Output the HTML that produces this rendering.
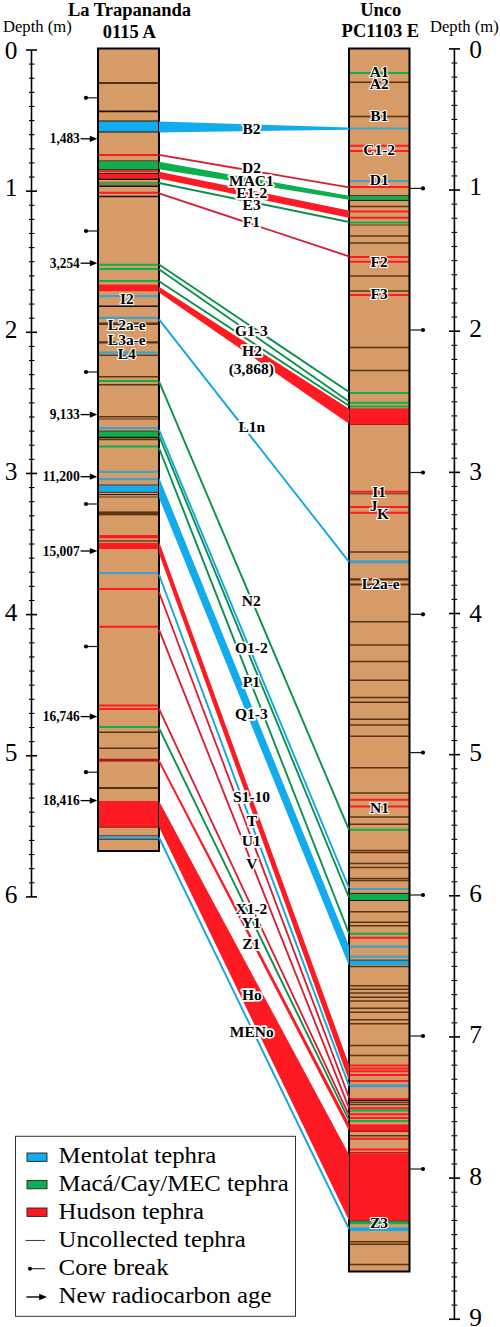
<!DOCTYPE html>
<html><head><meta charset="utf-8"><style>
html,body{margin:0;padding:0;background:#fff;}
svg{display:block;}
text{font-family:"Liberation Serif",serif;}
.lb{font-weight:bold;fill:#000;stroke:#fff;stroke-width:3.4px;paint-order:stroke;stroke-linejoin:round;}
.lc{stroke-width:2.2px;}
.dt{font-weight:bold;font-size:15.4px;}
.tt{font-weight:bold;font-size:18.5px;}
.dp{font-size:16.6px;}
.ax{font-size:25.4px;}
.lg{font-size:23.5px;}
</style></head><body>
<svg width="500" height="1327" viewBox="0 0 500 1327">
<rect x="98.0" y="48.5" width="61.0" height="802.5" fill="#D79B67"/>
<rect x="349.0" y="48.5" width="60.5" height="1223" fill="#D79B67"/>
<line x1="98.0" y1="83" x2="159.0" y2="83" stroke="#1C1008" stroke-width="1.6"/>
<line x1="98.0" y1="111.4" x2="159.0" y2="111.4" stroke="#1C1008" stroke-width="1.6"/>
<rect x="98.0" y="121.4" width="61.0" height="10.599999999999994" fill="#12ACEE"/>
<line x1="98.0" y1="121.0" x2="159.0" y2="121.0" stroke="#1C1008" stroke-width="1.0"/>
<line x1="98.0" y1="132.0" x2="159.0" y2="132.0" stroke="#1C1008" stroke-width="1.0"/>
<line x1="98.0" y1="155" x2="159.0" y2="155" stroke="#FD1A22" stroke-width="2.0"/>
<line x1="98.0" y1="161" x2="159.0" y2="161" stroke="#1C1008" stroke-width="1.0"/>
<rect x="98.0" y="161.5" width="61.0" height="7.800000000000011" fill="#0DAE4E"/>
<line x1="98.0" y1="169.8" x2="159.0" y2="169.8" stroke="#1C1008" stroke-width="1.0"/>
<line x1="98.0" y1="171.3" x2="159.0" y2="171.3" stroke="#FD1A22" stroke-width="2.0"/>
<line x1="98.0" y1="173.6" x2="159.0" y2="173.6" stroke="#1C1008" stroke-width="1.0"/>
<rect x="98.0" y="174" width="61.0" height="4.599999999999994" fill="#FD1A22"/>
<line x1="98.0" y1="179.2" x2="159.0" y2="179.2" stroke="#1C1008" stroke-width="1.5"/>
<rect x="98.0" y="181.8" width="61.0" height="3.799999999999983" fill="#5E8F3C"/>
<line x1="98.0" y1="186.3" x2="159.0" y2="186.3" stroke="#1C1008" stroke-width="1.5"/>
<line x1="98.0" y1="192.7" x2="159.0" y2="192.7" stroke="#FD1A22" stroke-width="2.0"/>
<line x1="98.0" y1="196.5" x2="159.0" y2="196.5" stroke="#1C1008" stroke-width="1.5"/>
<line x1="98.0" y1="264.7" x2="159.0" y2="264.7" stroke="#0DAE4E" stroke-width="2.0"/>
<line x1="98.0" y1="268.9" x2="159.0" y2="268.9" stroke="#0DAE4E" stroke-width="2.0"/>
<line x1="98.0" y1="280.9" x2="159.0" y2="280.9" stroke="#0DAE4E" stroke-width="2.0"/>
<rect x="98.0" y="284.6" width="61.0" height="6.599999999999966" fill="#FD1A22"/>
<line x1="98.0" y1="296.2" x2="159.0" y2="296.2" stroke="#3FA2CC" stroke-width="2.2"/>
<line x1="98.0" y1="306.2" x2="159.0" y2="306.2" stroke="#1C1008" stroke-width="1.5"/>
<line x1="98.0" y1="317.9" x2="159.0" y2="317.9" stroke="#3FA2CC" stroke-width="2.2"/>
<line x1="98.0" y1="323.8" x2="159.0" y2="323.8" stroke="#5A3414" stroke-width="2.4"/>
<line x1="98.0" y1="342.4" x2="159.0" y2="342.4" stroke="#5A3414" stroke-width="2.4"/>
<line x1="98.0" y1="352.6" x2="159.0" y2="352.6" stroke="#3FA2CC" stroke-width="2.2"/>
<line x1="98.0" y1="355.2" x2="159.0" y2="355.2" stroke="#1C1008" stroke-width="1.0"/>
<line x1="98.0" y1="376.8" x2="159.0" y2="376.8" stroke="#5A3414" stroke-width="1.5"/>
<line x1="98.0" y1="380.9" x2="159.0" y2="380.9" stroke="#0DAE4E" stroke-width="2.0"/>
<line x1="98.0" y1="384.8" x2="159.0" y2="384.8" stroke="#5A3414" stroke-width="1.5"/>
<line x1="98.0" y1="416.8" x2="159.0" y2="416.8" stroke="#5A3414" stroke-width="1.6"/>
<line x1="98.0" y1="419.0" x2="159.0" y2="419.0" stroke="#5A3414" stroke-width="1.0"/>
<line x1="98.0" y1="428.2" x2="159.0" y2="428.2" stroke="#3FA2CC" stroke-width="2.2"/>
<line x1="98.0" y1="431.2" x2="159.0" y2="431.2" stroke="#1C1008" stroke-width="1.0"/>
<rect x="98.0" y="431.6" width="61.0" height="5.399999999999977" fill="#0DAE4E"/>
<line x1="98.0" y1="437.5" x2="159.0" y2="437.5" stroke="#1C1008" stroke-width="1.5"/>
<line x1="98.0" y1="439.6" x2="159.0" y2="439.6" stroke="#5A3414" stroke-width="1.5"/>
<line x1="98.0" y1="446.6" x2="159.0" y2="446.6" stroke="#0DAE4E" stroke-width="2.0"/>
<line x1="98.0" y1="471.9" x2="159.0" y2="471.9" stroke="#3FA2CC" stroke-width="2.2"/>
<line x1="98.0" y1="479.1" x2="159.0" y2="479.1" stroke="#3FA2CC" stroke-width="2.2"/>
<line x1="98.0" y1="485.1" x2="159.0" y2="485.1" stroke="#1C1008" stroke-width="1.0"/>
<rect x="98.0" y="485.5" width="61.0" height="6.399999999999977" fill="#12ACEE"/>
<line x1="98.0" y1="492.3" x2="159.0" y2="492.3" stroke="#1C1008" stroke-width="0.8"/>
<line x1="98.0" y1="494.6" x2="159.0" y2="494.6" stroke="#1C1008" stroke-width="1.0"/>
<line x1="98.0" y1="497.0" x2="159.0" y2="497.0" stroke="#5A3414" stroke-width="1.0"/>
<rect x="98.0" y="511.4" width="61.0" height="4.0" fill="#5A3414"/>
<rect x="98.0" y="535" width="61.0" height="3.2999999999999545" fill="#FD1A22"/>
<line x1="98.0" y1="541" x2="159.0" y2="541" stroke="#1C1008" stroke-width="1.0"/>
<rect x="98.0" y="543" width="61.0" height="6" fill="#FD1A22"/>
<line x1="98.0" y1="573" x2="159.0" y2="573" stroke="#3FA2CC" stroke-width="2.2"/>
<line x1="98.0" y1="589" x2="159.0" y2="589" stroke="#FD1A22" stroke-width="2.0"/>
<line x1="98.0" y1="626.7" x2="159.0" y2="626.7" stroke="#FD1A22" stroke-width="2.0"/>
<line x1="98.0" y1="705.4" x2="159.0" y2="705.4" stroke="#FD1A22" stroke-width="2.0"/>
<line x1="98.0" y1="709" x2="159.0" y2="709" stroke="#FD1A22" stroke-width="2.0"/>
<line x1="98.0" y1="727" x2="159.0" y2="727" stroke="#0DAE4E" stroke-width="2.0"/>
<line x1="98.0" y1="732.3" x2="159.0" y2="732.3" stroke="#5A3414" stroke-width="1.5"/>
<line x1="98.0" y1="748.3" x2="159.0" y2="748.3" stroke="#5A3414" stroke-width="1.5"/>
<rect x="98.0" y="758.7" width="61.0" height="2.8999999999999773" fill="#A8191C"/>
<line x1="98.0" y1="788" x2="159.0" y2="788" stroke="#1C1008" stroke-width="1.5"/>
<rect x="98.0" y="801" width="61.0" height="26" fill="#FD1A22"/>
<line x1="98.0" y1="827.2" x2="159.0" y2="827.2" stroke="#A8191C" stroke-width="1.2"/>
<line x1="98.0" y1="835.8" x2="159.0" y2="835.8" stroke="#223" stroke-width="0.9"/>
<rect x="98.0" y="836.2" width="61.0" height="2.599999999999909" fill="#3FA2CC"/>
<line x1="98.0" y1="839.3" x2="159.0" y2="839.3" stroke="#223" stroke-width="0.9"/>
<line x1="349.0" y1="73" x2="409.5" y2="73" stroke="#0DAE4E" stroke-width="2.0"/>
<line x1="349.0" y1="82.3" x2="409.5" y2="82.3" stroke="#5A3414" stroke-width="1.5"/>
<line x1="349.0" y1="116.5" x2="409.5" y2="116.5" stroke="#5A3414" stroke-width="1.5"/>
<line x1="349.0" y1="128.5" x2="409.5" y2="128.5" stroke="#3FA2CC" stroke-width="2.2"/>
<line x1="349.0" y1="145.8" x2="409.5" y2="145.8" stroke="#FD1A22" stroke-width="2.0"/>
<line x1="349.0" y1="150.9" x2="409.5" y2="150.9" stroke="#FD1A22" stroke-width="2.0"/>
<line x1="349.0" y1="181" x2="409.5" y2="181" stroke="#3FA2CC" stroke-width="2.2"/>
<line x1="349.0" y1="186.9" x2="409.5" y2="186.9" stroke="#FD1A22" stroke-width="2.0"/>
<line x1="349.0" y1="195.8" x2="409.5" y2="195.8" stroke="#1C1008" stroke-width="1.0"/>
<rect x="349.0" y="196.2" width="60.5" height="3.700000000000017" fill="#0DAE4E"/>
<line x1="349.0" y1="200.4" x2="409.5" y2="200.4" stroke="#1C1008" stroke-width="1.0"/>
<line x1="349.0" y1="206.6" x2="409.5" y2="206.6" stroke="#5A3414" stroke-width="1.5"/>
<line x1="349.0" y1="211.4" x2="409.5" y2="211.4" stroke="#FD1A22" stroke-width="2.0"/>
<line x1="349.0" y1="217.8" x2="409.5" y2="217.8" stroke="#FD1A22" stroke-width="2.0"/>
<line x1="349.0" y1="222.6" x2="409.5" y2="222.6" stroke="#0DAE4E" stroke-width="2.0"/>
<line x1="349.0" y1="225" x2="409.5" y2="225" stroke="#5A3414" stroke-width="1.0"/>
<line x1="349.0" y1="236.0" x2="409.5" y2="236.0" stroke="#5A3414" stroke-width="1.5"/>
<line x1="349.0" y1="243.0" x2="409.5" y2="243.0" stroke="#5A3414" stroke-width="1.5"/>
<line x1="349.0" y1="256.9" x2="409.5" y2="256.9" stroke="#FD1A22" stroke-width="2.0"/>
<line x1="349.0" y1="261.7" x2="409.5" y2="261.7" stroke="#FD1A22" stroke-width="2.0"/>
<line x1="349.0" y1="276" x2="409.5" y2="276" stroke="#5A3414" stroke-width="1.5"/>
<line x1="349.0" y1="291" x2="409.5" y2="291" stroke="#5A3414" stroke-width="1.5"/>
<line x1="349.0" y1="295" x2="409.5" y2="295" stroke="#FD1A22" stroke-width="2.0"/>
<line x1="349.0" y1="347.5" x2="409.5" y2="347.5" stroke="#5A3414" stroke-width="1.5"/>
<line x1="349.0" y1="370.5" x2="409.5" y2="370.5" stroke="#5A3414" stroke-width="1.5"/>
<line x1="349.0" y1="393" x2="409.5" y2="393" stroke="#0DAE4E" stroke-width="2.0"/>
<line x1="349.0" y1="402.7" x2="409.5" y2="402.7" stroke="#0DAE4E" stroke-width="2.0"/>
<line x1="349.0" y1="406.5" x2="409.5" y2="406.5" stroke="#0DAE4E" stroke-width="2.0"/>
<rect x="349.0" y="408.3" width="60.5" height="15.699999999999989" fill="#FD1A22"/>
<line x1="349.0" y1="424.5" x2="409.5" y2="424.5" stroke="#A8191C" stroke-width="1.0"/>
<line x1="349.0" y1="491.7" x2="409.5" y2="491.7" stroke="#FD1A22" stroke-width="2.0"/>
<line x1="349.0" y1="493.8" x2="409.5" y2="493.8" stroke="#5A3414" stroke-width="1.0"/>
<line x1="349.0" y1="507" x2="409.5" y2="507" stroke="#FD1A22" stroke-width="2.0"/>
<line x1="349.0" y1="512.7" x2="409.5" y2="512.7" stroke="#FD1A22" stroke-width="2.0"/>
<line x1="349.0" y1="552" x2="409.5" y2="552" stroke="#5A3414" stroke-width="1.5"/>
<line x1="349.0" y1="561.8" x2="409.5" y2="561.8" stroke="#3FA2CC" stroke-width="3.0"/>
<line x1="349.0" y1="579.4" x2="409.5" y2="579.4" stroke="#5A3414" stroke-width="2.2"/>
<line x1="349.0" y1="584.5" x2="409.5" y2="584.5" stroke="#5A3414" stroke-width="2.2"/>
<line x1="349.0" y1="621.7" x2="409.5" y2="621.7" stroke="#5A3414" stroke-width="1.5"/>
<line x1="349.0" y1="645" x2="409.5" y2="645" stroke="#5A3414" stroke-width="1.5"/>
<line x1="349.0" y1="661.4" x2="409.5" y2="661.4" stroke="#5A3414" stroke-width="1.5"/>
<line x1="349.0" y1="680.3" x2="409.5" y2="680.3" stroke="#5A3414" stroke-width="1.5"/>
<line x1="349.0" y1="697.4" x2="409.5" y2="697.4" stroke="#5A3414" stroke-width="1.5"/>
<line x1="349.0" y1="702.2" x2="409.5" y2="702.2" stroke="#5A3414" stroke-width="1.5"/>
<line x1="349.0" y1="719.3" x2="409.5" y2="719.3" stroke="#5A3414" stroke-width="1.5"/>
<line x1="349.0" y1="725" x2="409.5" y2="725" stroke="#5A3414" stroke-width="1.5"/>
<line x1="349.0" y1="736.3" x2="409.5" y2="736.3" stroke="#5A3414" stroke-width="1.5"/>
<line x1="349.0" y1="767.8" x2="409.5" y2="767.8" stroke="#5A3414" stroke-width="1.5"/>
<line x1="349.0" y1="793" x2="409.5" y2="793" stroke="#5A3414" stroke-width="1.5"/>
<line x1="349.0" y1="799.8" x2="409.5" y2="799.8" stroke="#FD1A22" stroke-width="2.0"/>
<line x1="349.0" y1="806.5" x2="409.5" y2="806.5" stroke="#FD1A22" stroke-width="2.0"/>
<line x1="349.0" y1="817" x2="409.5" y2="817" stroke="#5A3414" stroke-width="1.5"/>
<line x1="349.0" y1="824.2" x2="409.5" y2="824.2" stroke="#5A3414" stroke-width="1.5"/>
<line x1="349.0" y1="829.8" x2="409.5" y2="829.8" stroke="#0DAE4E" stroke-width="2.0"/>
<line x1="349.0" y1="850.6" x2="409.5" y2="850.6" stroke="#5A3414" stroke-width="1.5"/>
<line x1="349.0" y1="852.6" x2="409.5" y2="852.6" stroke="#5A3414" stroke-width="1.5"/>
<line x1="349.0" y1="863.4" x2="409.5" y2="863.4" stroke="#5A3414" stroke-width="1.5"/>
<line x1="349.0" y1="867.4" x2="409.5" y2="867.4" stroke="#5A3414" stroke-width="1.5"/>
<line x1="349.0" y1="878.6" x2="409.5" y2="878.6" stroke="#5A3414" stroke-width="1.5"/>
<line x1="349.0" y1="880.4" x2="409.5" y2="880.4" stroke="#5A3414" stroke-width="1.5"/>
<line x1="349.0" y1="889" x2="409.5" y2="889" stroke="#3FA2CC" stroke-width="2.2"/>
<line x1="349.0" y1="893.4" x2="409.5" y2="893.4" stroke="#1C1008" stroke-width="1.0"/>
<rect x="349.0" y="893.9" width="60.5" height="6.100000000000023" fill="#0DAE4E"/>
<line x1="349.0" y1="900.5" x2="409.5" y2="900.5" stroke="#1C1008" stroke-width="1.0"/>
<line x1="349.0" y1="911.7" x2="409.5" y2="911.7" stroke="#5A3414" stroke-width="1.5"/>
<line x1="349.0" y1="922.3" x2="409.5" y2="922.3" stroke="#5A3414" stroke-width="1.5"/>
<line x1="349.0" y1="925.8" x2="409.5" y2="925.8" stroke="#5A3414" stroke-width="1.5"/>
<line x1="349.0" y1="933.8" x2="409.5" y2="933.8" stroke="#0DAE4E" stroke-width="2.0"/>
<line x1="349.0" y1="937.8" x2="409.5" y2="937.8" stroke="#FD1A22" stroke-width="2.0"/>
<line x1="349.0" y1="946.6" x2="409.5" y2="946.6" stroke="#3FA2CC" stroke-width="2.2"/>
<line x1="349.0" y1="956.7" x2="409.5" y2="956.7" stroke="#3FA2CC" stroke-width="2.2"/>
<line x1="349.0" y1="960.2" x2="409.5" y2="960.2" stroke="#1C1008" stroke-width="1.0"/>
<rect x="349.0" y="960.7" width="60.5" height="4.2999999999999545" fill="#12ACEE"/>
<line x1="349.0" y1="966.4" x2="409.5" y2="966.4" stroke="#5A3414" stroke-width="1.5"/>
<line x1="349.0" y1="985.8" x2="409.5" y2="985.8" stroke="#5A3414" stroke-width="1.5"/>
<line x1="349.0" y1="989.2" x2="409.5" y2="989.2" stroke="#5A3414" stroke-width="1.5"/>
<line x1="349.0" y1="993" x2="409.5" y2="993" stroke="#5A3414" stroke-width="1.5"/>
<line x1="349.0" y1="997.3" x2="409.5" y2="997.3" stroke="#5A3414" stroke-width="1.5"/>
<line x1="349.0" y1="1001" x2="409.5" y2="1001" stroke="#5A3414" stroke-width="1.5"/>
<line x1="349.0" y1="1008.3" x2="409.5" y2="1008.3" stroke="#5A3414" stroke-width="1.5"/>
<line x1="349.0" y1="1012.3" x2="409.5" y2="1012.3" stroke="#5A3414" stroke-width="1.5"/>
<line x1="349.0" y1="1019.8" x2="409.5" y2="1019.8" stroke="#5A3414" stroke-width="1.5"/>
<line x1="349.0" y1="1023.8" x2="409.5" y2="1023.8" stroke="#5A3414" stroke-width="1.5"/>
<line x1="349.0" y1="1045.4" x2="409.5" y2="1045.4" stroke="#5A3414" stroke-width="1.5"/>
<line x1="349.0" y1="1055.5" x2="409.5" y2="1055.5" stroke="#5A3414" stroke-width="1.5"/>
<line x1="349.0" y1="1065.4" x2="409.5" y2="1065.4" stroke="#FD1A22" stroke-width="2.0"/>
<line x1="349.0" y1="1068.6" x2="409.5" y2="1068.6" stroke="#FD1A22" stroke-width="2.0"/>
<line x1="349.0" y1="1071.2" x2="409.5" y2="1071.2" stroke="#FD1A22" stroke-width="2.0"/>
<line x1="349.0" y1="1075" x2="409.5" y2="1075" stroke="#FD1A22" stroke-width="2.0"/>
<line x1="349.0" y1="1081" x2="409.5" y2="1081" stroke="#FD1A22" stroke-width="2.0"/>
<rect x="349.0" y="1084.4" width="60.5" height="2.7999999999999545" fill="#3FA2CC"/>
<line x1="349.0" y1="1099" x2="409.5" y2="1099" stroke="#FD1A22" stroke-width="2.0"/>
<line x1="349.0" y1="1100.5" x2="409.5" y2="1100.5" stroke="#1C1008" stroke-width="1.0"/>
<line x1="349.0" y1="1102.2" x2="409.5" y2="1102.2" stroke="#1C1008" stroke-width="1.0"/>
<line x1="349.0" y1="1104.6" x2="409.5" y2="1104.6" stroke="#5A3414" stroke-width="1.5"/>
<line x1="349.0" y1="1108.3" x2="409.5" y2="1108.3" stroke="#FD1A22" stroke-width="2.0"/>
<line x1="349.0" y1="1110.6" x2="409.5" y2="1110.6" stroke="#0DAE4E" stroke-width="2.0"/>
<line x1="349.0" y1="1114.2" x2="409.5" y2="1114.2" stroke="#FD1A22" stroke-width="2.0"/>
<line x1="349.0" y1="1118" x2="409.5" y2="1118" stroke="#FD1A22" stroke-width="2.0"/>
<line x1="349.0" y1="1121.1" x2="409.5" y2="1121.1" stroke="#0DAE4E" stroke-width="2.0"/>
<rect x="349.0" y="1124.4" width="60.5" height="6.599999999999909" fill="#FD1A22"/>
<line x1="349.0" y1="1131.4" x2="409.5" y2="1131.4" stroke="#A8191C" stroke-width="1.2"/>
<line x1="349.0" y1="1135.8" x2="409.5" y2="1135.8" stroke="#5A3414" stroke-width="1.5"/>
<line x1="349.0" y1="1138.7" x2="409.5" y2="1138.7" stroke="#FD1A22" stroke-width="2.0"/>
<line x1="349.0" y1="1149.4" x2="409.5" y2="1149.4" stroke="#FD1A22" stroke-width="2.0"/>
<line x1="349.0" y1="1152.4" x2="409.5" y2="1152.4" stroke="#A8191C" stroke-width="1.0"/>
<rect x="349.0" y="1153.2" width="60.5" height="67.39999999999986" fill="#FD1A22"/>
<line x1="349.0" y1="1221.1" x2="409.5" y2="1221.1" stroke="#1C1008" stroke-width="1.0"/>
<rect x="349.0" y="1221.5" width="60.5" height="2.7000000000000455" fill="#0DAE4E"/>
<rect x="349.0" y="1227.5" width="60.5" height="3.5" fill="#12ACEE"/>
<line x1="349.0" y1="1241.7" x2="409.5" y2="1241.7" stroke="#5A3414" stroke-width="1.5"/>
<line x1="349.0" y1="1244.3" x2="409.5" y2="1244.3" stroke="#5A3414" stroke-width="1.5"/>
<line x1="349.0" y1="1264.6" x2="409.5" y2="1264.6" stroke="#5A3414" stroke-width="1.5"/>
<rect x="98.0" y="48.5" width="61.0" height="802.5" fill="none" stroke="#000" stroke-width="2"/>
<rect x="349.0" y="48.5" width="60.5" height="1223" fill="none" stroke="#000" stroke-width="2"/>
<polygon points="159.0,121.4 349.0,127.6 349.0,129.8 159.0,132.4" fill="#12ACEE"/>
<line x1="159.0" y1="154.9" x2="349.0" y2="187.4" stroke="#DC1A30" stroke-width="1.8"/>
<polygon points="159.0,161.8 349.0,195.8 349.0,199.8 159.0,169.2" fill="#0DAE4E"/>
<polygon points="159.0,171.8 349.0,210.4 349.0,217.8 159.0,178.4" fill="#FD1A22"/>
<line x1="159.0" y1="183.0" x2="349.0" y2="222.0" stroke="#0B914C" stroke-width="1.9"/>
<line x1="159.0" y1="193.4" x2="349.0" y2="256.4" stroke="#DC1A30" stroke-width="1.8"/>
<line x1="159.0" y1="264.5" x2="349.0" y2="392.0" stroke="#0B914C" stroke-width="1.9"/>
<line x1="159.0" y1="269.3" x2="349.0" y2="401.5" stroke="#0B914C" stroke-width="1.9"/>
<line x1="159.0" y1="281.3" x2="349.0" y2="405.8" stroke="#0B914C" stroke-width="1.9"/>
<polygon points="159.0,286.8 349.0,408.8 349.0,423.8 159.0,292.4" fill="#FD1A22"/>
<line x1="159.0" y1="319.3" x2="349.0" y2="561.8" stroke="#14A6E2" stroke-width="1.9"/>
<line x1="159.0" y1="381.3" x2="349.0" y2="829.8" stroke="#0B914C" stroke-width="1.9"/>
<line x1="159.0" y1="429.8" x2="349.0" y2="888.0" stroke="#14A6E2" stroke-width="1.9"/>
<line x1="159.0" y1="435.6" x2="349.0" y2="897.5" stroke="#0B914C" stroke-width="1.9"/>
<line x1="159.0" y1="448.0" x2="349.0" y2="933.5" stroke="#0B914C" stroke-width="1.9"/>
<polygon points="159.0,477.2 349.0,945.8 349.0,965.8 159.0,497.8" fill="#12ACEE"/>
<polygon points="159.0,541.5 349.0,1064.8 349.0,1080.8 159.0,553.5" fill="#FD1A22"/>
<line x1="159.0" y1="574.5" x2="349.0" y2="1085.8" stroke="#14A6E2" stroke-width="1.9"/>
<line x1="159.0" y1="592.3" x2="349.0" y2="1097.5" stroke="#DC1A30" stroke-width="1.8"/>
<line x1="159.0" y1="629.6" x2="349.0" y2="1107.9" stroke="#DC1A30" stroke-width="1.8"/>
<line x1="159.0" y1="708.9" x2="349.0" y2="1115.3" stroke="#DC1A30" stroke-width="1.8"/>
<line x1="159.0" y1="728.2" x2="349.0" y2="1120.3" stroke="#0B914C" stroke-width="1.9"/>
<polygon points="159.0,759.0 349.0,1123.5 349.0,1130.8 159.0,763.0" fill="#FD1A22"/>
<polygon points="159.0,801.0 349.0,1154.5 349.0,1220.6 159.0,827.0" fill="#FD1A22"/>
<line x1="159.0" y1="837.5" x2="349.0" y2="1229.0" stroke="#14A6E2" stroke-width="1.9"/>
<text x="129.5" y="16.4" class="tt" text-anchor="middle">La Trapananda</text>
<text x="129.3" y="37.8" class="tt" text-anchor="middle">0115 A</text>
<text x="380.7" y="15.6" class="tt" text-anchor="middle">Unco</text>
<text x="380.4" y="37.4" class="tt" text-anchor="middle">PC1103 E</text>
<text x="3" y="31.6" class="dp">Depth (m)</text>
<text x="430" y="31.6" class="dp">Depth (m)</text>
<line x1="31.5" y1="50.0" x2="31.5" y2="896.9000000000001" stroke="#000" stroke-width="1.6"/>
<line x1="26" y1="50.00" x2="37" y2="50.00" stroke="#000" stroke-width="1.6"/>
<line x1="29" y1="64.11" x2="34.5" y2="64.11" stroke="#000" stroke-width="1.1"/>
<line x1="29" y1="78.23" x2="34.5" y2="78.23" stroke="#000" stroke-width="1.1"/>
<line x1="29" y1="92.34" x2="34.5" y2="92.34" stroke="#000" stroke-width="1.1"/>
<line x1="29" y1="106.46" x2="34.5" y2="106.46" stroke="#000" stroke-width="1.1"/>
<line x1="29" y1="120.58" x2="34.5" y2="120.58" stroke="#000" stroke-width="1.1"/>
<line x1="29" y1="134.69" x2="34.5" y2="134.69" stroke="#000" stroke-width="1.1"/>
<line x1="29" y1="148.81" x2="34.5" y2="148.81" stroke="#000" stroke-width="1.1"/>
<line x1="29" y1="162.92" x2="34.5" y2="162.92" stroke="#000" stroke-width="1.1"/>
<line x1="29" y1="177.04" x2="34.5" y2="177.04" stroke="#000" stroke-width="1.1"/>
<line x1="26" y1="191.15" x2="37" y2="191.15" stroke="#000" stroke-width="1.6"/>
<line x1="29" y1="205.27" x2="34.5" y2="205.27" stroke="#000" stroke-width="1.1"/>
<line x1="29" y1="219.38" x2="34.5" y2="219.38" stroke="#000" stroke-width="1.1"/>
<line x1="29" y1="233.50" x2="34.5" y2="233.50" stroke="#000" stroke-width="1.1"/>
<line x1="29" y1="247.61" x2="34.5" y2="247.61" stroke="#000" stroke-width="1.1"/>
<line x1="29" y1="261.73" x2="34.5" y2="261.73" stroke="#000" stroke-width="1.1"/>
<line x1="29" y1="275.84" x2="34.5" y2="275.84" stroke="#000" stroke-width="1.1"/>
<line x1="29" y1="289.96" x2="34.5" y2="289.96" stroke="#000" stroke-width="1.1"/>
<line x1="29" y1="304.07" x2="34.5" y2="304.07" stroke="#000" stroke-width="1.1"/>
<line x1="29" y1="318.19" x2="34.5" y2="318.19" stroke="#000" stroke-width="1.1"/>
<line x1="26" y1="332.30" x2="37" y2="332.30" stroke="#000" stroke-width="1.6"/>
<line x1="29" y1="346.42" x2="34.5" y2="346.42" stroke="#000" stroke-width="1.1"/>
<line x1="29" y1="360.53" x2="34.5" y2="360.53" stroke="#000" stroke-width="1.1"/>
<line x1="29" y1="374.65" x2="34.5" y2="374.65" stroke="#000" stroke-width="1.1"/>
<line x1="29" y1="388.76" x2="34.5" y2="388.76" stroke="#000" stroke-width="1.1"/>
<line x1="29" y1="402.88" x2="34.5" y2="402.88" stroke="#000" stroke-width="1.1"/>
<line x1="29" y1="416.99" x2="34.5" y2="416.99" stroke="#000" stroke-width="1.1"/>
<line x1="29" y1="431.11" x2="34.5" y2="431.11" stroke="#000" stroke-width="1.1"/>
<line x1="29" y1="445.22" x2="34.5" y2="445.22" stroke="#000" stroke-width="1.1"/>
<line x1="29" y1="459.34" x2="34.5" y2="459.34" stroke="#000" stroke-width="1.1"/>
<line x1="26" y1="473.45" x2="37" y2="473.45" stroke="#000" stroke-width="1.6"/>
<line x1="29" y1="487.57" x2="34.5" y2="487.57" stroke="#000" stroke-width="1.1"/>
<line x1="29" y1="501.68" x2="34.5" y2="501.68" stroke="#000" stroke-width="1.1"/>
<line x1="29" y1="515.79" x2="34.5" y2="515.79" stroke="#000" stroke-width="1.1"/>
<line x1="29" y1="529.91" x2="34.5" y2="529.91" stroke="#000" stroke-width="1.1"/>
<line x1="29" y1="544.02" x2="34.5" y2="544.02" stroke="#000" stroke-width="1.1"/>
<line x1="29" y1="558.14" x2="34.5" y2="558.14" stroke="#000" stroke-width="1.1"/>
<line x1="29" y1="572.25" x2="34.5" y2="572.25" stroke="#000" stroke-width="1.1"/>
<line x1="29" y1="586.37" x2="34.5" y2="586.37" stroke="#000" stroke-width="1.1"/>
<line x1="29" y1="600.49" x2="34.5" y2="600.49" stroke="#000" stroke-width="1.1"/>
<line x1="26" y1="614.60" x2="37" y2="614.60" stroke="#000" stroke-width="1.6"/>
<line x1="29" y1="628.72" x2="34.5" y2="628.72" stroke="#000" stroke-width="1.1"/>
<line x1="29" y1="642.83" x2="34.5" y2="642.83" stroke="#000" stroke-width="1.1"/>
<line x1="29" y1="656.94" x2="34.5" y2="656.94" stroke="#000" stroke-width="1.1"/>
<line x1="29" y1="671.06" x2="34.5" y2="671.06" stroke="#000" stroke-width="1.1"/>
<line x1="29" y1="685.17" x2="34.5" y2="685.17" stroke="#000" stroke-width="1.1"/>
<line x1="29" y1="699.29" x2="34.5" y2="699.29" stroke="#000" stroke-width="1.1"/>
<line x1="29" y1="713.40" x2="34.5" y2="713.40" stroke="#000" stroke-width="1.1"/>
<line x1="29" y1="727.52" x2="34.5" y2="727.52" stroke="#000" stroke-width="1.1"/>
<line x1="29" y1="741.63" x2="34.5" y2="741.63" stroke="#000" stroke-width="1.1"/>
<line x1="26" y1="755.75" x2="37" y2="755.75" stroke="#000" stroke-width="1.6"/>
<line x1="29" y1="769.87" x2="34.5" y2="769.87" stroke="#000" stroke-width="1.1"/>
<line x1="29" y1="783.98" x2="34.5" y2="783.98" stroke="#000" stroke-width="1.1"/>
<line x1="29" y1="798.10" x2="34.5" y2="798.10" stroke="#000" stroke-width="1.1"/>
<line x1="29" y1="812.21" x2="34.5" y2="812.21" stroke="#000" stroke-width="1.1"/>
<line x1="29" y1="826.33" x2="34.5" y2="826.33" stroke="#000" stroke-width="1.1"/>
<line x1="29" y1="840.44" x2="34.5" y2="840.44" stroke="#000" stroke-width="1.1"/>
<line x1="29" y1="854.56" x2="34.5" y2="854.56" stroke="#000" stroke-width="1.1"/>
<line x1="29" y1="868.67" x2="34.5" y2="868.67" stroke="#000" stroke-width="1.1"/>
<line x1="29" y1="882.79" x2="34.5" y2="882.79" stroke="#000" stroke-width="1.1"/>
<line x1="26" y1="896.90" x2="37" y2="896.90" stroke="#000" stroke-width="1.6"/>
<text x="11.1" y="58.50" class="ax" text-anchor="middle">0</text>
<text x="11.1" y="195.85" class="ax" text-anchor="middle">1</text>
<text x="11.1" y="337.90" class="ax" text-anchor="middle">2</text>
<text x="11.1" y="480.25" class="ax" text-anchor="middle">3</text>
<text x="11.1" y="621.40" class="ax" text-anchor="middle">4</text>
<text x="11.1" y="761.05" class="ax" text-anchor="middle">5</text>
<text x="11.1" y="903.40" class="ax" text-anchor="middle">6</text>
<line x1="454.4" y1="48.9" x2="454.4" y2="1319.2500000000002" stroke="#000" stroke-width="1.6"/>
<line x1="449" y1="48.90" x2="460" y2="48.90" stroke="#000" stroke-width="1.6"/>
<line x1="451.5" y1="63.02" x2="457.2" y2="63.02" stroke="#000" stroke-width="1.1"/>
<line x1="451.5" y1="77.13" x2="457.2" y2="77.13" stroke="#000" stroke-width="1.1"/>
<line x1="451.5" y1="91.25" x2="457.2" y2="91.25" stroke="#000" stroke-width="1.1"/>
<line x1="451.5" y1="105.36" x2="457.2" y2="105.36" stroke="#000" stroke-width="1.1"/>
<line x1="451.5" y1="119.47" x2="457.2" y2="119.47" stroke="#000" stroke-width="1.1"/>
<line x1="451.5" y1="133.59" x2="457.2" y2="133.59" stroke="#000" stroke-width="1.1"/>
<line x1="451.5" y1="147.71" x2="457.2" y2="147.71" stroke="#000" stroke-width="1.1"/>
<line x1="451.5" y1="161.82" x2="457.2" y2="161.82" stroke="#000" stroke-width="1.1"/>
<line x1="451.5" y1="175.94" x2="457.2" y2="175.94" stroke="#000" stroke-width="1.1"/>
<line x1="449" y1="190.05" x2="460" y2="190.05" stroke="#000" stroke-width="1.6"/>
<line x1="451.5" y1="204.17" x2="457.2" y2="204.17" stroke="#000" stroke-width="1.1"/>
<line x1="451.5" y1="218.28" x2="457.2" y2="218.28" stroke="#000" stroke-width="1.1"/>
<line x1="451.5" y1="232.40" x2="457.2" y2="232.40" stroke="#000" stroke-width="1.1"/>
<line x1="451.5" y1="246.51" x2="457.2" y2="246.51" stroke="#000" stroke-width="1.1"/>
<line x1="451.5" y1="260.62" x2="457.2" y2="260.62" stroke="#000" stroke-width="1.1"/>
<line x1="451.5" y1="274.74" x2="457.2" y2="274.74" stroke="#000" stroke-width="1.1"/>
<line x1="451.5" y1="288.86" x2="457.2" y2="288.86" stroke="#000" stroke-width="1.1"/>
<line x1="451.5" y1="302.97" x2="457.2" y2="302.97" stroke="#000" stroke-width="1.1"/>
<line x1="451.5" y1="317.08" x2="457.2" y2="317.08" stroke="#000" stroke-width="1.1"/>
<line x1="449" y1="331.20" x2="460" y2="331.20" stroke="#000" stroke-width="1.6"/>
<line x1="451.5" y1="345.31" x2="457.2" y2="345.31" stroke="#000" stroke-width="1.1"/>
<line x1="451.5" y1="359.43" x2="457.2" y2="359.43" stroke="#000" stroke-width="1.1"/>
<line x1="451.5" y1="373.55" x2="457.2" y2="373.55" stroke="#000" stroke-width="1.1"/>
<line x1="451.5" y1="387.66" x2="457.2" y2="387.66" stroke="#000" stroke-width="1.1"/>
<line x1="451.5" y1="401.77" x2="457.2" y2="401.77" stroke="#000" stroke-width="1.1"/>
<line x1="451.5" y1="415.89" x2="457.2" y2="415.89" stroke="#000" stroke-width="1.1"/>
<line x1="451.5" y1="430.00" x2="457.2" y2="430.00" stroke="#000" stroke-width="1.1"/>
<line x1="451.5" y1="444.12" x2="457.2" y2="444.12" stroke="#000" stroke-width="1.1"/>
<line x1="451.5" y1="458.24" x2="457.2" y2="458.24" stroke="#000" stroke-width="1.1"/>
<line x1="449" y1="472.35" x2="460" y2="472.35" stroke="#000" stroke-width="1.6"/>
<line x1="451.5" y1="486.47" x2="457.2" y2="486.47" stroke="#000" stroke-width="1.1"/>
<line x1="451.5" y1="500.58" x2="457.2" y2="500.58" stroke="#000" stroke-width="1.1"/>
<line x1="451.5" y1="514.69" x2="457.2" y2="514.69" stroke="#000" stroke-width="1.1"/>
<line x1="451.5" y1="528.81" x2="457.2" y2="528.81" stroke="#000" stroke-width="1.1"/>
<line x1="451.5" y1="542.92" x2="457.2" y2="542.92" stroke="#000" stroke-width="1.1"/>
<line x1="451.5" y1="557.04" x2="457.2" y2="557.04" stroke="#000" stroke-width="1.1"/>
<line x1="451.5" y1="571.15" x2="457.2" y2="571.15" stroke="#000" stroke-width="1.1"/>
<line x1="451.5" y1="585.27" x2="457.2" y2="585.27" stroke="#000" stroke-width="1.1"/>
<line x1="451.5" y1="599.38" x2="457.2" y2="599.38" stroke="#000" stroke-width="1.1"/>
<line x1="449" y1="613.50" x2="460" y2="613.50" stroke="#000" stroke-width="1.6"/>
<line x1="451.5" y1="627.62" x2="457.2" y2="627.62" stroke="#000" stroke-width="1.1"/>
<line x1="451.5" y1="641.73" x2="457.2" y2="641.73" stroke="#000" stroke-width="1.1"/>
<line x1="451.5" y1="655.84" x2="457.2" y2="655.84" stroke="#000" stroke-width="1.1"/>
<line x1="451.5" y1="669.96" x2="457.2" y2="669.96" stroke="#000" stroke-width="1.1"/>
<line x1="451.5" y1="684.07" x2="457.2" y2="684.07" stroke="#000" stroke-width="1.1"/>
<line x1="451.5" y1="698.19" x2="457.2" y2="698.19" stroke="#000" stroke-width="1.1"/>
<line x1="451.5" y1="712.30" x2="457.2" y2="712.30" stroke="#000" stroke-width="1.1"/>
<line x1="451.5" y1="726.42" x2="457.2" y2="726.42" stroke="#000" stroke-width="1.1"/>
<line x1="451.5" y1="740.53" x2="457.2" y2="740.53" stroke="#000" stroke-width="1.1"/>
<line x1="449" y1="754.65" x2="460" y2="754.65" stroke="#000" stroke-width="1.6"/>
<line x1="451.5" y1="768.76" x2="457.2" y2="768.76" stroke="#000" stroke-width="1.1"/>
<line x1="451.5" y1="782.88" x2="457.2" y2="782.88" stroke="#000" stroke-width="1.1"/>
<line x1="451.5" y1="797.00" x2="457.2" y2="797.00" stroke="#000" stroke-width="1.1"/>
<line x1="451.5" y1="811.11" x2="457.2" y2="811.11" stroke="#000" stroke-width="1.1"/>
<line x1="451.5" y1="825.23" x2="457.2" y2="825.23" stroke="#000" stroke-width="1.1"/>
<line x1="451.5" y1="839.34" x2="457.2" y2="839.34" stroke="#000" stroke-width="1.1"/>
<line x1="451.5" y1="853.46" x2="457.2" y2="853.46" stroke="#000" stroke-width="1.1"/>
<line x1="451.5" y1="867.57" x2="457.2" y2="867.57" stroke="#000" stroke-width="1.1"/>
<line x1="451.5" y1="881.69" x2="457.2" y2="881.69" stroke="#000" stroke-width="1.1"/>
<line x1="449" y1="895.80" x2="460" y2="895.80" stroke="#000" stroke-width="1.6"/>
<line x1="451.5" y1="909.91" x2="457.2" y2="909.91" stroke="#000" stroke-width="1.1"/>
<line x1="451.5" y1="924.03" x2="457.2" y2="924.03" stroke="#000" stroke-width="1.1"/>
<line x1="451.5" y1="938.15" x2="457.2" y2="938.15" stroke="#000" stroke-width="1.1"/>
<line x1="451.5" y1="952.26" x2="457.2" y2="952.26" stroke="#000" stroke-width="1.1"/>
<line x1="451.5" y1="966.38" x2="457.2" y2="966.38" stroke="#000" stroke-width="1.1"/>
<line x1="451.5" y1="980.49" x2="457.2" y2="980.49" stroke="#000" stroke-width="1.1"/>
<line x1="451.5" y1="994.61" x2="457.2" y2="994.61" stroke="#000" stroke-width="1.1"/>
<line x1="451.5" y1="1008.72" x2="457.2" y2="1008.72" stroke="#000" stroke-width="1.1"/>
<line x1="451.5" y1="1022.84" x2="457.2" y2="1022.84" stroke="#000" stroke-width="1.1"/>
<line x1="449" y1="1036.95" x2="460" y2="1036.95" stroke="#000" stroke-width="1.6"/>
<line x1="451.5" y1="1051.07" x2="457.2" y2="1051.07" stroke="#000" stroke-width="1.1"/>
<line x1="451.5" y1="1065.18" x2="457.2" y2="1065.18" stroke="#000" stroke-width="1.1"/>
<line x1="451.5" y1="1079.30" x2="457.2" y2="1079.30" stroke="#000" stroke-width="1.1"/>
<line x1="451.5" y1="1093.41" x2="457.2" y2="1093.41" stroke="#000" stroke-width="1.1"/>
<line x1="451.5" y1="1107.53" x2="457.2" y2="1107.53" stroke="#000" stroke-width="1.1"/>
<line x1="451.5" y1="1121.64" x2="457.2" y2="1121.64" stroke="#000" stroke-width="1.1"/>
<line x1="451.5" y1="1135.76" x2="457.2" y2="1135.76" stroke="#000" stroke-width="1.1"/>
<line x1="451.5" y1="1149.87" x2="457.2" y2="1149.87" stroke="#000" stroke-width="1.1"/>
<line x1="451.5" y1="1163.99" x2="457.2" y2="1163.99" stroke="#000" stroke-width="1.1"/>
<line x1="449" y1="1178.10" x2="460" y2="1178.10" stroke="#000" stroke-width="1.6"/>
<line x1="451.5" y1="1192.22" x2="457.2" y2="1192.22" stroke="#000" stroke-width="1.1"/>
<line x1="451.5" y1="1206.33" x2="457.2" y2="1206.33" stroke="#000" stroke-width="1.1"/>
<line x1="451.5" y1="1220.45" x2="457.2" y2="1220.45" stroke="#000" stroke-width="1.1"/>
<line x1="451.5" y1="1234.56" x2="457.2" y2="1234.56" stroke="#000" stroke-width="1.1"/>
<line x1="451.5" y1="1248.68" x2="457.2" y2="1248.68" stroke="#000" stroke-width="1.1"/>
<line x1="451.5" y1="1262.79" x2="457.2" y2="1262.79" stroke="#000" stroke-width="1.1"/>
<line x1="451.5" y1="1276.91" x2="457.2" y2="1276.91" stroke="#000" stroke-width="1.1"/>
<line x1="451.5" y1="1291.02" x2="457.2" y2="1291.02" stroke="#000" stroke-width="1.1"/>
<line x1="451.5" y1="1305.14" x2="457.2" y2="1305.14" stroke="#000" stroke-width="1.1"/>
<line x1="449" y1="1319.25" x2="460" y2="1319.25" stroke="#000" stroke-width="1.6"/>
<text x="475.6" y="58.00" class="ax" text-anchor="middle">0</text>
<text x="475.6" y="195.35" class="ax" text-anchor="middle">1</text>
<text x="475.6" y="336.90" class="ax" text-anchor="middle">2</text>
<text x="475.6" y="480.25" class="ax" text-anchor="middle">3</text>
<text x="475.6" y="621.70" class="ax" text-anchor="middle">4</text>
<text x="475.6" y="760.65" class="ax" text-anchor="middle">5</text>
<text x="475.6" y="901.80" class="ax" text-anchor="middle">6</text>
<text x="475.6" y="1042.65" class="ax" text-anchor="middle">7</text>
<text x="475.6" y="1184.80" class="ax" text-anchor="middle">8</text>
<text x="475.6" y="1325.55" class="ax" text-anchor="middle">9</text>
<line x1="86" y1="97.8" x2="97.5" y2="97.8" stroke="#1a1a1a" stroke-width="1.2"/>
<circle cx="86" cy="97.8" r="2.1" fill="#000"/>
<line x1="86" y1="231" x2="97.5" y2="231" stroke="#1a1a1a" stroke-width="1.2"/>
<circle cx="86" cy="231" r="2.1" fill="#000"/>
<line x1="86" y1="372" x2="97.5" y2="372" stroke="#1a1a1a" stroke-width="1.2"/>
<circle cx="86" cy="372" r="2.1" fill="#000"/>
<line x1="86" y1="504" x2="97.5" y2="504" stroke="#1a1a1a" stroke-width="1.2"/>
<circle cx="86" cy="504" r="2.1" fill="#000"/>
<line x1="86" y1="646.5" x2="97.5" y2="646.5" stroke="#1a1a1a" stroke-width="1.2"/>
<circle cx="86" cy="646.5" r="2.1" fill="#000"/>
<line x1="86" y1="772.2" x2="97.5" y2="772.2" stroke="#1a1a1a" stroke-width="1.2"/>
<circle cx="86" cy="772.2" r="2.1" fill="#000"/>
<line x1="409.5" y1="188.4" x2="423" y2="188.4" stroke="#1a1a1a" stroke-width="1.2"/>
<circle cx="423" cy="188.4" r="2.1" fill="#000"/>
<line x1="409.5" y1="330" x2="423" y2="330" stroke="#1a1a1a" stroke-width="1.2"/>
<circle cx="423" cy="330" r="2.1" fill="#000"/>
<line x1="409.5" y1="472.5" x2="423" y2="472.5" stroke="#1a1a1a" stroke-width="1.2"/>
<circle cx="423" cy="472.5" r="2.1" fill="#000"/>
<line x1="409.5" y1="614.3" x2="423" y2="614.3" stroke="#1a1a1a" stroke-width="1.2"/>
<circle cx="423" cy="614.3" r="2.1" fill="#000"/>
<line x1="409.5" y1="752.6" x2="423" y2="752.6" stroke="#1a1a1a" stroke-width="1.2"/>
<circle cx="423" cy="752.6" r="2.1" fill="#000"/>
<line x1="409.5" y1="895" x2="423" y2="895" stroke="#1a1a1a" stroke-width="1.2"/>
<circle cx="423" cy="895" r="2.1" fill="#000"/>
<line x1="409.5" y1="1036" x2="423" y2="1036" stroke="#1a1a1a" stroke-width="1.2"/>
<circle cx="423" cy="1036" r="2.1" fill="#000"/>
<line x1="409.5" y1="1169" x2="423" y2="1169" stroke="#1a1a1a" stroke-width="1.2"/>
<circle cx="423" cy="1169" r="2.1" fill="#000"/>
<text x="79.8" y="143.3" class="dt" text-anchor="end" textLength="30.0" lengthAdjust="spacingAndGlyphs">1,483</text>
<line x1="80.6" y1="138.8" x2="92" y2="138.8" stroke="#000" stroke-width="1.3"/>
<polygon points="97.4,138.8 89.8,135.70000000000002 89.8,141.9" fill="#000"/>
<text x="79.8" y="267.7" class="dt" text-anchor="end" textLength="30.0" lengthAdjust="spacingAndGlyphs">3,254</text>
<line x1="80.6" y1="263.2" x2="92" y2="263.2" stroke="#000" stroke-width="1.3"/>
<polygon points="97.4,263.2 89.8,260.09999999999997 89.8,266.3" fill="#000"/>
<text x="79.8" y="419.1" class="dt" text-anchor="end" textLength="30.0" lengthAdjust="spacingAndGlyphs">9,133</text>
<line x1="80.6" y1="414.6" x2="92" y2="414.6" stroke="#000" stroke-width="1.3"/>
<polygon points="97.4,414.6 89.8,411.5 89.8,417.70000000000005" fill="#000"/>
<text x="79.8" y="481.2" class="dt" text-anchor="end" textLength="37.0" lengthAdjust="spacingAndGlyphs">11,200</text>
<line x1="80.6" y1="476.7" x2="92" y2="476.7" stroke="#000" stroke-width="1.3"/>
<polygon points="97.4,476.7 89.8,473.59999999999997 89.8,479.8" fill="#000"/>
<text x="79.8" y="555.5" class="dt" text-anchor="end" textLength="37.0" lengthAdjust="spacingAndGlyphs">15,007</text>
<line x1="80.6" y1="551" x2="92" y2="551" stroke="#000" stroke-width="1.3"/>
<polygon points="97.4,551 89.8,547.9 89.8,554.1" fill="#000"/>
<text x="79.8" y="721.1" class="dt" text-anchor="end" textLength="37.0" lengthAdjust="spacingAndGlyphs">16,746</text>
<line x1="80.6" y1="716.6" x2="92" y2="716.6" stroke="#000" stroke-width="1.3"/>
<polygon points="97.4,716.6 89.8,713.5 89.8,719.7" fill="#000"/>
<text x="79.8" y="805.1" class="dt" text-anchor="end" textLength="37.0" lengthAdjust="spacingAndGlyphs">18,416</text>
<line x1="80.6" y1="800.6" x2="92" y2="800.6" stroke="#000" stroke-width="1.3"/>
<polygon points="97.4,800.6 89.8,797.5 89.8,803.7" fill="#000"/>
<text x="251.5" y="133.8" class="lb" font-size="15.5" text-anchor="middle">B2</text>
<text x="251.6" y="172.7" class="lb" font-size="15.5" text-anchor="middle">D2</text>
<text x="251.4" y="186.0" class="lb" font-size="15.5" text-anchor="middle">MAC1</text>
<text x="251.8" y="198" class="lb" font-size="15.5" text-anchor="middle">E1-2</text>
<text x="251.6" y="210" class="lb" font-size="15.5" text-anchor="middle">E3</text>
<text x="251.4" y="227.4" class="lb" font-size="15.5" text-anchor="middle">F1</text>
<text x="251.4" y="335.6" class="lb" font-size="15.5" text-anchor="middle">G1-3</text>
<text x="252" y="355.6" class="lb" font-size="15.5" text-anchor="middle">H2</text>
<text x="251.3" y="374.2" class="lb" font-size="15.5" text-anchor="middle">(3,868)</text>
<text x="251.8" y="431.6" class="lb" font-size="15.5" text-anchor="middle">L1n</text>
<text x="251.2" y="605.5" class="lb" font-size="15.5" text-anchor="middle">N2</text>
<text x="251.4" y="653" class="lb" font-size="15.5" text-anchor="middle">O1-2</text>
<text x="251.4" y="686.6" class="lb" font-size="15.5" text-anchor="middle">P1</text>
<text x="251.4" y="719.2" class="lb" font-size="15.5" text-anchor="middle">Q1-3</text>
<text x="251.6" y="802" class="lb" font-size="15.5" text-anchor="middle">S1-10</text>
<text x="251.8" y="825.6" class="lb" font-size="15.5" text-anchor="middle">T</text>
<text x="251.2" y="846.4" class="lb" font-size="15.5" text-anchor="middle">U1</text>
<text x="251.8" y="868.8" class="lb" font-size="15.5" text-anchor="middle">V</text>
<text x="251.4" y="913.6" class="lb" font-size="15.5" text-anchor="middle">X1-2</text>
<text x="251.2" y="928" class="lb" font-size="15.5" text-anchor="middle">Y1</text>
<text x="251.2" y="948.8" class="lb" font-size="15.5" text-anchor="middle">Z1</text>
<text x="251.8" y="1000" class="lb" font-size="15.5" text-anchor="middle">Ho</text>
<text x="251.8" y="1036.8" class="lb" font-size="15.5" text-anchor="middle">MENo</text>
<text x="379.2" y="77" class="lb lc" font-size="15.5" text-anchor="middle">A1</text>
<text x="379.2" y="89" class="lb lc" font-size="15.5" text-anchor="middle">A2</text>
<text x="379.2" y="121" class="lb lc" font-size="15.5" text-anchor="middle">B1</text>
<text x="379.2" y="155.4" class="lb lc" font-size="15.5" text-anchor="middle">C1-2</text>
<text x="379.2" y="185" class="lb lc" font-size="15.5" text-anchor="middle">D1</text>
<text x="379.2" y="267" class="lb lc" font-size="15.5" text-anchor="middle">F2</text>
<text x="379.2" y="299" class="lb lc" font-size="15.5" text-anchor="middle">F3</text>
<text x="379.2" y="497" class="lb lc" font-size="15.5" text-anchor="middle">I1</text>
<text x="373.6" y="511" class="lb lc" font-size="15.5" text-anchor="middle">J</text>
<text x="383" y="518.6" class="lb lc" font-size="15.5" text-anchor="middle">K</text>
<text x="380.8" y="589" class="lb lc" font-size="15.5" text-anchor="middle">L2a-e</text>
<text x="379.5" y="812.6" class="lb lc" font-size="15.5" text-anchor="middle">N1</text>
<text x="379" y="1227.8" class="lb lc" font-size="15.5" text-anchor="middle">Z3</text>
<text x="126.8" y="303.8" class="lb lc" font-size="15.5" text-anchor="middle">I2</text>
<text x="126.8" y="330" class="lb lc" font-size="15.5" text-anchor="middle">L2a-e</text>
<text x="126.8" y="345.4" class="lb lc" font-size="15.5" text-anchor="middle">L3a-e</text>
<text x="126.8" y="359" class="lb lc" font-size="15.5" text-anchor="middle">L4</text>
<rect x="15.5" y="1136.3" width="280" height="180" fill="#fff" stroke="#333" stroke-width="1"/>
<rect x="27" y="1153" width="20" height="8.4" fill="#12ACEE" stroke="#222" stroke-width="0.9"/>
<rect x="27" y="1180.4" width="20" height="8.4" fill="#0DAE4E" stroke="#222" stroke-width="0.9"/>
<rect x="27" y="1208" width="20" height="8.4" fill="#FD1A22" stroke="#222" stroke-width="0.9"/>
<line x1="25.5" y1="1240.5" x2="45" y2="1240.5" stroke="#444" stroke-width="1.1"/>
<line x1="30" y1="1268.7" x2="45" y2="1268.7" stroke="#222" stroke-width="1.1"/>
<circle cx="30" cy="1268.7" r="2.0" fill="#000"/>
<line x1="26.4" y1="1297" x2="41" y2="1297" stroke="#000" stroke-width="1.4"/>
<polygon points="47,1297 39.2,1293.8 39.2,1300.2" fill="#000"/>
<text x="58.6" y="1162.9" class="lg" textLength="157.6" lengthAdjust="spacingAndGlyphs">Mentolat tephra</text>
<text x="58.6" y="1190.9" class="lg" textLength="230.2" lengthAdjust="spacingAndGlyphs">Macá/Cay/MEC tephra</text>
<text x="58.6" y="1218.8" class="lg" textLength="145.3" lengthAdjust="spacingAndGlyphs">Hudson tephra</text>
<text x="58.6" y="1246.8" class="lg" textLength="187.2" lengthAdjust="spacingAndGlyphs">Uncollected tephra</text>
<text x="58.6" y="1274.7" class="lg" textLength="110" lengthAdjust="spacingAndGlyphs">Core break</text>
<text x="58.6" y="1302.7" class="lg" textLength="213" lengthAdjust="spacingAndGlyphs">New radiocarbon age</text>
</svg>
</body></html>
